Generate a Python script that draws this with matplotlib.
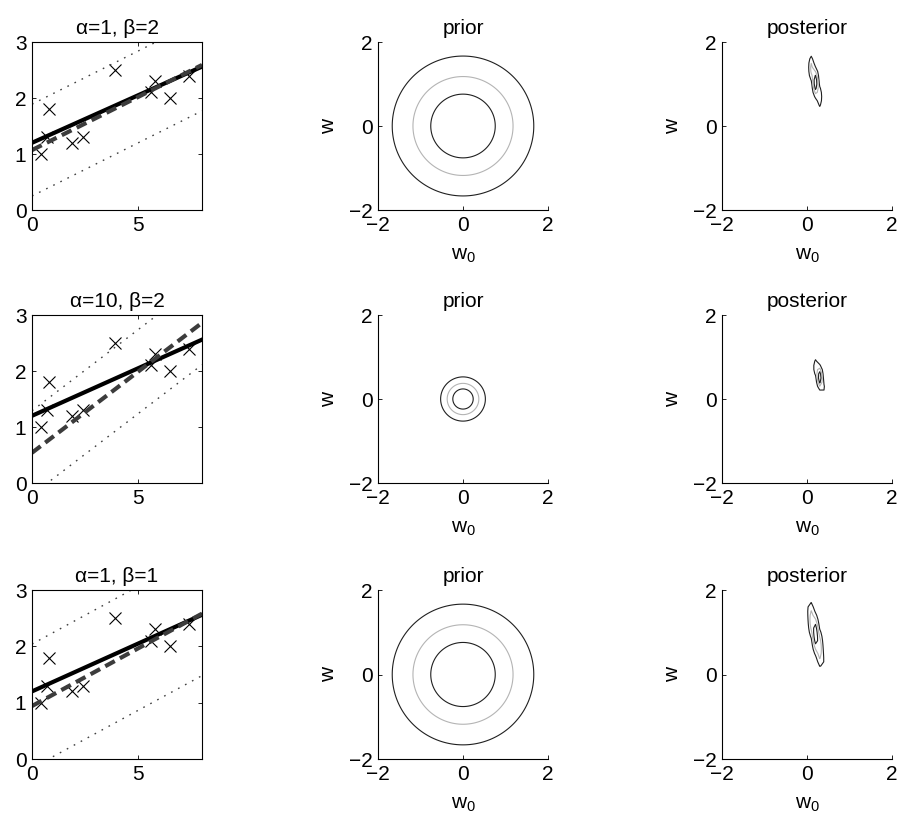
import numpy as np
import matplotlib.pyplot as plt

plt.rcParams['font.family'] = ['Liberation Sans', 'DejaVu Sans']
plt.rcParams['mathtext.fontset'] = 'custom'
plt.rcParams['mathtext.rm'] = 'Liberation Sans'
plt.rcParams['axes.unicode_minus'] = True

# observed points (x, t)
x_data = [0.4, 0.7, 0.8, 1.9, 2.4, 3.9, 5.6, 5.8, 6.5, 7.4]
y_data = [1.0, 1.3, 1.8, 1.2, 1.3, 2.5, 2.1, 2.3, 2.0, 2.4]

# true line
true_b, true_m = 1.2, 0.17

# one entry per row
alphas = [1, 10, 1]
betas = [2, 2, 1]
mean_b = [1.07, 0.54, 0.94]     # posterior mean intercept (dashed)
mean_m = [0.19, 0.29, 0.205]    # posterior mean slope
band = [0.82, 0.75, 1.10]       # half width of dotted lines
prior_sd = [1.0, 0.316, 1.0]
post_sd_m = [0.085, 0.068, 0.115]
post_sd_b = [0.36, 0.24, 0.48]
post_rho = [-0.79, -0.66, -0.78]

levels = [0.25, 0.5, 0.75]
level_colors = ['#202020', '#b4b4b4', '#202020']

FS = 15
W, H = 902, 822
fig = plt.figure(figsize=(W / 100, H / 100), dpi=100)

col_x = [32, 378, 722]
col_w = 170
rows = [(42, 210), (315, 483), (590, 759)]


def box(px, top, bot):
    return [px / W, 1 - bot / H, col_w / W, (bot - top) / H]


def gauss(X, Y, mx, my, sx, sy, rho):
    dx = (X - mx) / sx
    dy = (Y - my) / sy
    q = (dx * dx - 2 * rho * dx * dy + dy * dy) / (1 - rho * rho)
    return np.exp(-0.5 * q)


def style_w(ax):
    ax.set_xlim(-2, 2)
    ax.set_ylim(-2, 2)
    ax.set_xticks([-2, 0, 2])
    ax.set_yticks([-2, 0, 2])
    ax.spines['top'].set_visible(False)
    ax.spines['right'].set_visible(False)
    ax.tick_params(direction='in', length=3, labelsize=FS, width=0.6, pad=4)
    for s in ax.spines.values():
        s.set_linewidth(0.8)
    ax.set_xlabel(r'$\mathrm{w}_{\mathrm{0}}$', fontsize=FS, labelpad=8)
    ax.set_ylabel('w', fontsize=FS, labelpad=8)


xx = np.linspace(0, 8, 2)
fine = np.linspace(-2, 2, 301)
coarse = np.linspace(-2, 2, 41)

for i, (top, bot) in enumerate(rows):
    # data space
    ax = fig.add_axes(box(col_x[0], top, bot))
    ax.plot(x_data, y_data, 'x', color='k', ms=8, mew=0.8)
    ax.plot(xx, true_b + true_m * xx, '-', color='k', lw=3)
    ax.plot(xx, mean_b[i] + mean_m[i] * xx, color='#3c3c3c', lw=3,
            dashes=(2.6, 1.4), dash_capstyle='butt')
    for sgn in (1, -1):
        ax.plot(xx, mean_b[i] + sgn * band[i] + mean_m[i] * xx, color='#404040',
                lw=1.0, dashes=(1.2, 4.5))
    ax.set_xlim(0, 8)
    ax.set_ylim(0, 3)
    ax.set_xticks([0, 5])
    ax.set_yticks([0, 1, 2, 3])
    ax.tick_params(direction='in', length=3, labelsize=FS, width=0.6,
                   top=True, right=True, pad=4)
    for s in ax.spines.values():
        s.set_linewidth(0.8)
    ax.set_title(f'α={alphas[i]}, β={betas[i]}', fontsize=FS, pad=6)

    # prior
    ax = fig.add_axes(box(col_x[1], top, bot))
    X, Y = np.meshgrid(fine, fine)
    Z = gauss(X, Y, 0, 0, prior_sd[i], prior_sd[i], 0)
    Z = Z / Z.max()
    ax.contour(X, Y, Z, levels=levels, colors=level_colors, linewidths=0.8)
    style_w(ax)
    ax.set_title('prior', fontsize=FS, pad=6)

    # posterior
    ax = fig.add_axes(box(col_x[2], top, bot))
    X, Y = np.meshgrid(coarse, coarse)
    Z = gauss(X, Y, mean_m[i], mean_b[i], post_sd_m[i], post_sd_b[i], post_rho[i])
    Z = Z / Z.max()
    ax.contour(X, Y, Z, levels=levels, colors=level_colors, linewidths=0.8)
    style_w(ax)
    ax.set_title('posterior', fontsize=FS, pad=6)

fig.savefig('out.png', dpi=100)
